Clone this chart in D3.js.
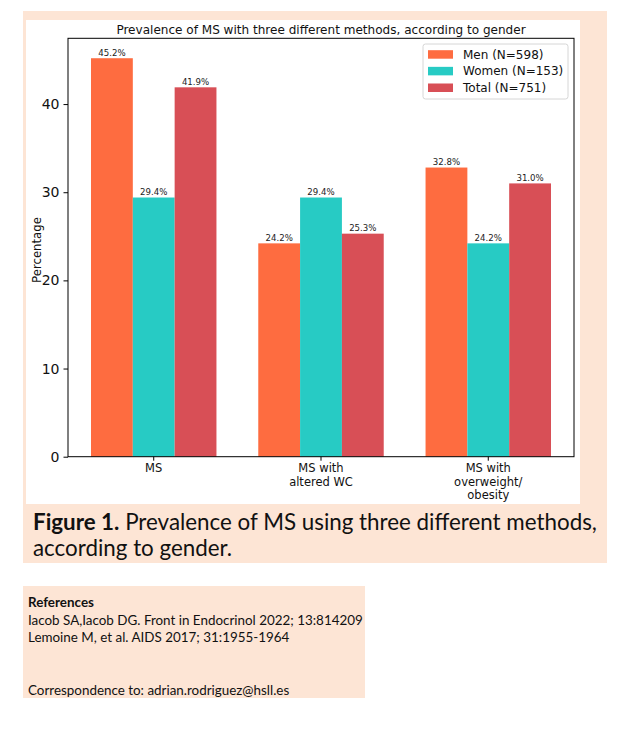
<!DOCTYPE html>
<html>
<head>
<meta charset="utf-8">
<script src="https://cdn.jsdelivr.net/npm/d3@7"></script>
<style>
  html, body { margin: 0; padding: 0; background: #ffffff; }
  svg { display: block; }
</style>
</head>
<body>
<svg id="fig" width="643" height="733"></svg>
<script>
// ---- data ----
const categories = [["MS"], ["MS with", "altered WC"], ["MS with", "overweight/", "obesity"]];
const seriesNames = ["Men (N=598)", "Women (N=153)", "Total (N=751)"];
const menValues = [45.2, 24.2, 32.8];
const womenValues = [29.4, 29.4, 24.2];
const totalValues = [41.9, 25.3, 31.0];
const yTickValues = [0, 10, 20, 30, 40];
const chartTitle = "Prevalence of MS with three different methods, according to gender";
const yLabel = "Percentage";
const captionBold = "Figure 1.";
const captionLine1 = " Prevalence of MS using three different methods,";
const captionLine2 = "according to gender.";
const refTitle = "References";
const refLines = ["Iacob SA,Iacob DG. Front in Endocrinol 2022; 13:814209", "Lemoine M, et al. AIDS 2017; 31:1955-1964"];
const correspondence = "Correspondence to: adrian.rodriguez@hsll.es";

const colors = ["#fe6c40", "#27cbc4", "#d84f56"];
const peach = "#fde5d5";
const valuesBySeries = [menValues, womenValues, totalValues];

const svg = d3.select("#fig");
const chartFont = "'DejaVu Sans', sans-serif";
const docFont = "Lato, 'Open Sans', sans-serif";

// backgrounds
svg.append("rect").attr("x", 23).attr("y", 11).attr("width", 584).attr("height", 552).attr("fill", peach);
svg.append("rect").attr("x", 26).attr("y", 20).attr("width", 554).attr("height", 484).attr("fill", "#ffffff");

// plot area
const pL = 68, pR = 574, pT = 38.3, pB = 456.7;
const yMax = d3.max(valuesBySeries.flat()) * 1.05;
const y = d3.scaleLinear().domain([0, yMax]).range([pB, pT]);
const idx = categories.map((d, i) => i);
const x0 = d3.scaleBand().domain(idx).range([pL, pR]).paddingInner(0.25).paddingOuter(0.1375);
const x1 = d3.scaleBand().domain(d3.range(seriesNames.length)).range([0, x0.bandwidth()]).padding(0);

// bars
const groups = svg.append("g").selectAll("g").data(idx).join("g")
  .attr("transform", i => `translate(${x0(i)},0)`);
groups.selectAll("rect").data(i => valuesBySeries.map((vals, s) => ({s, v: vals[i]}))).join("rect")
  .attr("x", d => x1(d.s)).attr("width", x1.bandwidth())
  .attr("y", d => y(d.v)).attr("height", d => y(0) - y(d.v))
  .attr("fill", d => colors[d.s]);
groups.selectAll("text").data(i => valuesBySeries.map((vals, s) => ({s, v: vals[i]}))).join("text")
  .attr("x", d => x1(d.s) + x1.bandwidth() / 2).attr("y", d => y(d.v) - 2.5)
  .attr("text-anchor", "middle").attr("font-family", chartFont).attr("font-size", 8.6)
  .attr("fill", "#222").text(d => d.v.toFixed(1) + "%");

// y axis
const yAxis = svg.append("g").attr("transform", `translate(${pL},0)`)
  .call(d3.axisLeft(y).tickValues(yTickValues).tickSize(4.5).tickPadding(4).tickFormat(d3.format("d")));
yAxis.select(".domain").remove();
yAxis.selectAll("line").attr("stroke", "#000").attr("stroke-width", 1);
yAxis.selectAll("text").attr("font-family", chartFont).attr("font-size", 14).attr("fill", "#111");

// x axis ticks and labels
const xt = svg.append("g");
xt.selectAll("line").data(idx).join("line")
  .attr("x1", i => x0(i) + x0.bandwidth() / 2).attr("x2", i => x0(i) + x0.bandwidth() / 2)
  .attr("y1", pB).attr("y2", pB + 4).attr("stroke", "#000").attr("stroke-width", 1);
xt.selectAll("text").data(idx).join("text")
  .attr("x", i => x0(i) + x0.bandwidth() / 2).attr("y", 472)
  .attr("text-anchor", "middle").attr("font-family", chartFont).attr("font-size", 11.5).attr("fill", "#111")
  .each(function(i) {
    const t = d3.select(this);
    categories[i].forEach((line, k) => {
      t.append("tspan").attr("x", x0(i) + x0.bandwidth() / 2).attr("dy", k === 0 ? 0 : 13.5).text(line);
    });
  });

// frame
svg.append("rect").attr("x", pL).attr("y", pT).attr("width", pR - pL).attr("height", pB - pT)
  .attr("fill", "none").attr("stroke", "#000").attr("stroke-width", 1);

function fit(sel, target) {
  const w = sel.node().getComputedTextLength();
  const fs = parseFloat(sel.attr("font-size"));
  sel.attr("font-size", fs * target / w);
}
// title
const title = svg.append("text").attr("x", (pL + pR) / 2).attr("y", 34).attr("text-anchor", "middle")
  .attr("font-family", chartFont).attr("font-size", 11).attr("fill", "#111").text(chartTitle);
fit(title, 410);

// y label
const yl = svg.append("text").attr("transform", "translate(41,250) rotate(-90)").attr("text-anchor", "middle")
  .attr("font-family", chartFont).attr("font-size", 11).attr("fill", "#111").text(yLabel);
fit(yl, 66);

// legend
const lg = svg.append("g");
lg.append("rect").attr("x", 423).attr("y", 44).attr("width", 145).attr("height", 55).attr("rx", 2.5)
  .attr("fill", "#fff").attr("stroke", "#d6d6d6").attr("stroke-width", 1);
const lrow = d3.scalePoint().domain(d3.range(seriesNames.length)).range([54, 87.3]);
lg.selectAll("rect.sw").data(seriesNames).join("rect").attr("class", "sw")
  .attr("x", 428).attr("y", (d, i) => lrow(i) - 3.8).attr("width", 25).attr("height", 8.5)
  .attr("fill", (d, i) => colors[i]);
lg.selectAll("text").data(seriesNames).join("text")
  .attr("x", 463).attr("y", (d, i) => lrow(i) + 4.5)
  .attr("font-family", chartFont).attr("font-size", 12).attr("fill", "#111").text(d => d);

// caption
const cap1 = svg.append("text").attr("x", 33).attr("y", 530).attr("font-family", docFont)
  .attr("font-size", 21).attr("fill", "#111");
cap1.append("tspan").attr("font-weight", "bold").text(captionBold);
cap1.append("tspan").attr("font-weight", "normal").text(captionLine1);
const capW = cap1.node().getComputedTextLength();
const capFs = 21 * 564 / capW;
cap1.attr("font-size", capFs);
svg.append("text").attr("x", 33).attr("y", 556).attr("font-family", docFont)
  .attr("font-size", capFs).attr("fill", "#111").text(captionLine2);

// references box
svg.append("rect").attr("x", 23).attr("y", 586).attr("width", 342).attr("height", 112).attr("fill", peach);
const r1 = svg.append("text").attr("x", 28).attr("y", 625).attr("font-family", docFont)
  .attr("font-size", 13).attr("fill", "#111").text(refLines[0]);
fit(r1, 335);
const refFs = parseFloat(r1.attr("font-size"));
svg.append("text").attr("x", 28).attr("y", 606.5).attr("font-family", docFont).attr("font-weight", "bold")
  .attr("font-size", refFs).attr("fill", "#111").text(refTitle);
svg.append("text").attr("x", 28).attr("y", 642.3).attr("font-family", docFont)
  .attr("font-size", refFs).attr("fill", "#111").text(refLines[1]);
svg.append("text").attr("x", 28).attr("y", 695).attr("font-family", docFont)
  .attr("font-size", refFs).attr("fill", "#111").text(correspondence);
</script>
</body>
</html>
